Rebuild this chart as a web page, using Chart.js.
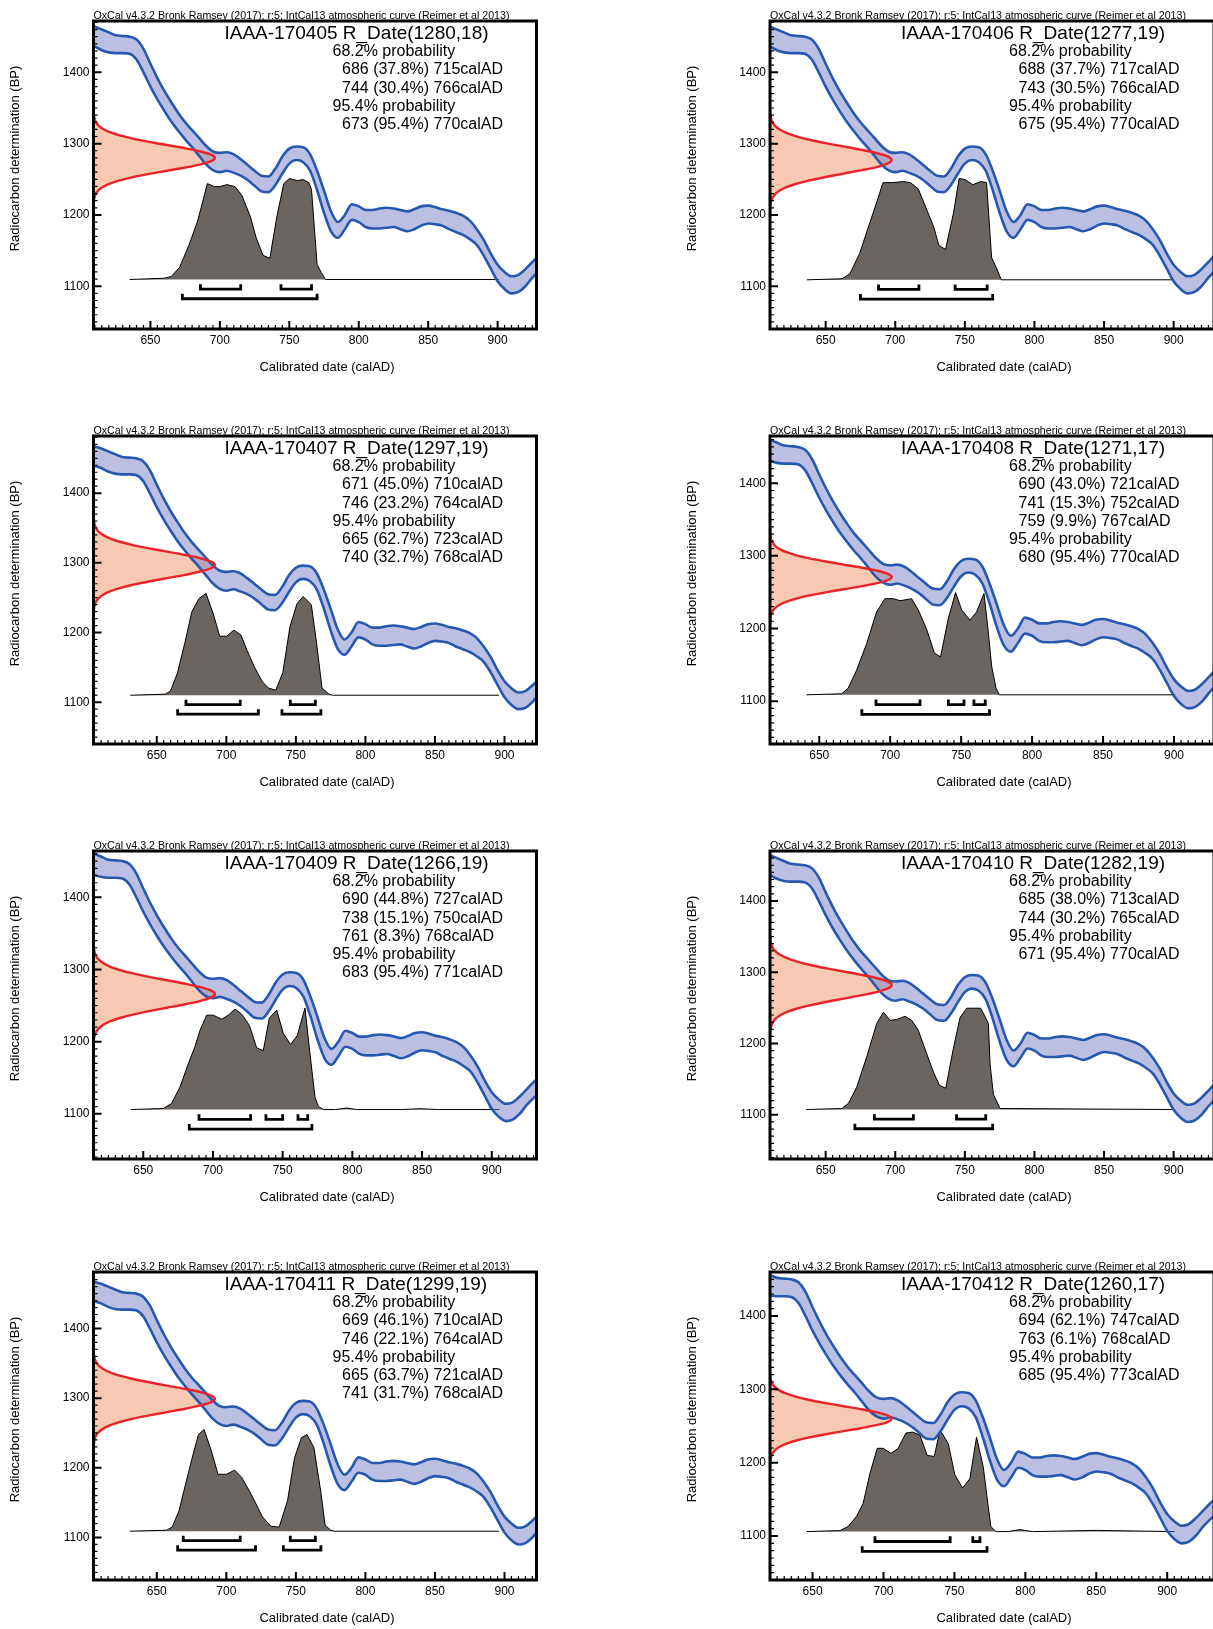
<!DOCTYPE html>
<html>
<head>
<meta charset="utf-8">
<title>OxCal calibration plots IAAA-170405 to IAAA-170412</title>
<script src="https://cdn.jsdelivr.net/npm/chart.js@4.4.1/dist/chart.umd.min.js"></script>
<style>
  html, body { margin: 0; padding: 0; background: #fff; }
  body { position: relative; width: 1213px; height: 1629px; overflow: hidden; }
  canvas { position: absolute; }
</style>
</head>
<body>
<script>
// IntCal13 1-sigma envelope (BP)
const curveYears = [600, 605, 610, 615, 620, 625, 630, 635, 640, 645, 650, 655, 660, 665, 670, 675, 680, 685, 690, 695,
  700, 705, 710, 715, 720, 725, 730, 735, 740, 745, 750, 755, 760, 765, 770, 775, 780, 785, 790, 795,
  800, 805, 810, 815, 820, 825, 830, 835, 840, 845, 850, 855, 860, 865, 870, 875, 880, 885, 890, 895,
  900, 905, 910, 915, 920, 925, 930, 935];
const curveUpper = [1470, 1467, 1464, 1460, 1456, 1452, 1451, 1450, 1446, 1433, 1412, 1392, 1374, 1358, 1343, 1330, 1319, 1308, 1297, 1289,
  1287, 1288, 1285, 1278, 1270, 1262, 1255, 1254, 1265, 1282, 1293, 1296, 1295, 1285, 1262, 1234, 1205, 1190, 1200, 1215,
  1212, 1207, 1207, 1209, 1210, 1209, 1207, 1205, 1208, 1212, 1213, 1211, 1208, 1206, 1203, 1199, 1192, 1180, 1165, 1146,
  1130, 1120, 1114, 1116, 1124, 1134, 1144, 1152];
const curveLower = [1442, 1439, 1436, 1431, 1428, 1427, 1427, 1426, 1418, 1400, 1380, 1362, 1346, 1331, 1318, 1306, 1295, 1283, 1271, 1263,
  1260, 1262, 1259, 1255, 1249, 1241, 1233, 1232, 1242, 1258, 1272, 1277, 1274, 1262, 1235, 1203, 1177, 1168, 1180, 1193,
  1190, 1183, 1181, 1181, 1182, 1183, 1180, 1177, 1180, 1185, 1188, 1187, 1185, 1180, 1176, 1172, 1166, 1158, 1143, 1125,
  1107, 1096, 1090, 1092, 1100, 1112, 1122, 1130];

// normal profile of the radiocarbon measurement (offset in sigma, relative height)
const gaussSigma = [4, 3.75, 3.5, 3.25, 3, 2.75, 2.5, 2.25, 2, 1.75, 1.5, 1.25, 1, 0.75, 0.5, 0.25, 0,
  -0.25, -0.5, -0.75, -1, -1.25, -1.5, -1.75, -2, -2.25, -2.5, -2.75, -3, -3.25, -3.5, -3.75, -4];
const gaussShape = [0.0003, 0.0009, 0.0022, 0.0051, 0.0111, 0.0228, 0.0439, 0.0796, 0.1353, 0.2163, 0.3247, 0.4578, 0.6065, 0.7548, 0.8825, 0.9692, 1,
  0.9692, 0.8825, 0.7548, 0.6065, 0.4578, 0.3247, 0.2163, 0.1353, 0.0796, 0.0439, 0.0228, 0.0111, 0.0051, 0.0022, 0.0009, 0.0003];

const xTickValues = [650, 700, 750, 800, 850, 900];
const yTickValues = [1100, 1200, 1300, 1400];

const headerText = "OxCal v4.3.2 Bronk Ramsey (2017); r:5; IntCal13 atmospheric curve (Reimer et al 2013)";
const labIds = ["IAAA-170405", "IAAA-170406", "IAAA-170407", "IAAA-170408", "IAAA-170409", "IAAA-170410", "IAAA-170411", "IAAA-170412"];
const rDateMean = [1280, 1277, 1297, 1271, 1266, 1282, 1299, 1260];
const rDateError = [18, 19, 19, 17, 19, 19, 19, 17];

const ranges68 = [
  [[686, 715], [744, 766]],
  [[688, 717], [743, 766]],
  [[671, 710], [746, 764]],
  [[690, 721], [741, 752], [759, 767]],
  [[690, 727], [738, 750], [761, 768]],
  [[685, 713], [744, 765]],
  [[669, 710], [746, 764]],
  [[694, 747], [763, 768]]
];
const percent68 = [[37.8, 30.4], [37.7, 30.5], [45.0, 23.2], [43.0, 15.3, 9.9], [44.8, 15.1, 8.3], [38.0, 30.2], [46.1, 22.1], [62.1, 6.1]];
const ranges95 = [
  [[673, 770]],
  [[675, 770]],
  [[665, 723], [740, 768]],
  [[680, 770]],
  [[683, 771]],
  [[671, 770]],
  [[665, 721], [741, 768]],
  [[685, 773]]
];
const percent95 = [[95.4], [95.4], [62.7, 32.7], [95.4], [95.4], [95.4], [63.7, 31.7], [95.4]];

// calibrated (posterior) distributions, relative height 0..1
const postYears = [
  [635, 660, 665, 671, 678, 684, 691, 696, 700, 705, 711, 716, 722, 726, 731, 736, 741, 746, 750, 756, 760, 764, 766, 770, 773, 776, 901],
  [636.5, 661.8, 667.4, 674.4, 681.4, 687, 691.2, 698.2, 705.3, 710.9, 716.5, 722.1, 727.7, 731.3, 736.1, 741.7, 745.9, 750.1, 755.7, 761.4, 765.6, 769.2, 772.6, 776.2, 900],
  [631, 656, 659.8, 664.9, 670.1, 675.2, 680.3, 685.4, 690.6, 695.2, 700.3, 705.4, 710.6, 714.9, 720.1, 726, 730.3, 735.5, 740.6, 745.7, 750.8, 755.2, 761.1, 764.9, 768.8, 773.9, 776.5, 896],
  [641, 665.7, 670.4, 676.3, 683.4, 690.4, 696.3, 702.4, 706.9, 715.1, 719.8, 725.7, 731.1, 735.5, 741, 746.1, 750.4, 756.2, 760.9, 766.1, 768.7, 771.5, 774.6, 776.9, 901],
  [641, 664.4, 670.3, 676.3, 682.3, 687.1, 690.7, 695.5, 700.2, 706.2, 711, 715.8, 720.6, 726.1, 731.3, 736.1, 740.4, 745.7, 750.5, 755.7, 760.5, 766, 769.6, 773.2, 775.6, 779.2, 788, 795.9, 803, 835, 848.6, 862, 905.5],
  [636, 661.6, 666.3, 672.3, 679.5, 686.7, 691.5, 696.3, 701.5, 707, 711.8, 716.6, 722.6, 727.4, 731.7, 736.3, 741.7, 746.6, 751.4, 761.4, 766.9, 768.1, 770.5, 775.3, 900],
  [630.6, 657, 661, 666, 671, 676, 680, 684, 689, 694, 700, 706, 711, 718, 726, 732, 738, 744, 749, 754, 758, 763, 768, 771, 775, 778, 896],
  [645.8, 669.3, 675.1, 681, 685.7, 690.4, 695.6, 699.8, 705.2, 710.4, 715.8, 720.5, 725.7, 730.8, 735.8, 739.8, 745.6, 750.3, 755.7, 760.9, 765.6, 770.3, 773.8, 775.7, 779.2, 788, 796.1, 805, 850, 905.4]
];
const postDensity = [
  [0, 0.013, 0.03, 0.12, 0.35, 0.58, 0.95, 0.92, 0.92, 0.94, 0.92, 0.83, 0.62, 0.42, 0.24, 0.21, 0.62, 0.95, 1.0, 0.98, 0.99, 0.96, 0.89, 0.15, 0.07, 0, 0],
  [0, 0.01, 0.06, 0.26, 0.55, 0.78, 0.96, 0.96, 0.97, 0.96, 0.9, 0.71, 0.52, 0.34, 0.3, 0.65, 1.0, 0.99, 0.94, 0.97, 0.96, 0.22, 0.12, 0, 0],
  [0, 0.01, 0.04, 0.22, 0.51, 0.82, 0.95, 1.0, 0.8, 0.58, 0.58, 0.64, 0.59, 0.44, 0.28, 0.13, 0.07, 0.05, 0.22, 0.67, 0.9, 0.97, 0.89, 0.51, 0.07, 0.01, 0, 0],
  [0, 0.01, 0.065, 0.24, 0.5, 0.81, 0.94, 0.94, 0.92, 0.94, 0.83, 0.64, 0.41, 0.37, 0.75, 1.0, 0.83, 0.73, 0.81, 0.99, 0.67, 0.28, 0.065, 0, 0],
  [0, 0.01, 0.06, 0.22, 0.45, 0.62, 0.78, 0.93, 0.93, 0.89, 0.93, 0.99, 0.94, 0.83, 0.61, 0.58, 0.9, 0.98, 0.75, 0.64, 0.73, 1.0, 0.55, 0.12, 0.03, 0, 0, 0.015, 0, 0, 0.008, 0, 0],
  [0, 0.01, 0.06, 0.22, 0.52, 0.85, 0.96, 0.88, 0.89, 0.92, 0.88, 0.78, 0.55, 0.37, 0.24, 0.21, 0.6, 0.91, 1.0, 1.0, 0.85, 0.45, 0.15, 0.01, 0],
  [0, 0.01, 0.04, 0.2, 0.48, 0.75, 0.95, 1.0, 0.8, 0.56, 0.56, 0.6, 0.53, 0.36, 0.14, 0.05, 0.04, 0.3, 0.72, 0.92, 0.95, 0.82, 0.38, 0.06, 0.01, 0, 0],
  [0, 0.01, 0.05, 0.15, 0.28, 0.57, 0.82, 0.82, 0.77, 0.82, 0.97, 0.98, 0.95, 0.75, 0.74, 1.0, 0.87, 0.56, 0.43, 0.52, 0.93, 0.64, 0.25, 0.05, 0, 0, 0.02, 0, 0.012, 0]
];
const postBaseBP = [1109.4, 1109, 1110, 1108.7, 1106, 1107.4, 1109, 1106];
const postPeakBP = [1251, 1251, 1256, 1249.5, 1246.5, 1249.5, 1255, 1244.5];

// axis ranges of each panel
const xMin = [609, 610, 604.5, 615.3, 614.3, 610, 604.5, 620];
const xMax = [928, 929, 923, 928.2, 932.1, 929, 923, 933];
const yMin = [1040, 1040, 1040, 1041, 1037.5, 1038, 1039, 1040];
const yMax = [1472, 1472, 1482, 1465, 1464, 1470, 1481, 1460];

// page layout
const colFrameLeft = [93.5, 770];
const colFrameRight = [536.5, 1214];
const colCanvasLeft = [0, 600];
const colCanvasWidth = [590, 617];
const rowFrameTop = [20.5, 436, 850.5, 1272];
const frameHeight = 308;
const padTop = 20, padBottom = 55;
const gaussWidthFrac = 0.274;

const fontFamily = '"Liberation Sans", Arial, Helvetica, sans-serif';
const bandLine = "rgb(38, 88, 176)";
const bandFill = "rgba(120, 130, 200, 0.5)";
const redLine = "rgb(232, 36, 40)";
const salmonFill = "rgb(247, 200, 178)";
const postFill = "rgb(106, 101, 96)";

function rangeText(r, p) {
  return r[0] + " (" + p.toFixed(1) + "%) " + r[1] + "calAD";
}

function bracketPoints(ranges, level) {
  const pts = [];
  ranges.forEach((r) => {
    pts.push({ x: r[0], y: level + 7 }, { x: r[0], y: level }, { x: r[1], y: level }, { x: r[1], y: level + 7 }, { x: r[1], y: null });
  });
  return pts;
}

const frameAndTicks = {
  id: "frameAndTicks",
  afterDatasetsDraw(chart) {
    const { ctx, chartArea: a, scales } = chart;
    const sx = scales.x, sy = scales.y;
    ctx.save();
    ctx.strokeStyle = "#000";
    // minor ticks
    ctx.lineWidth = 1.2;
    ctx.beginPath();
    for (let v = Math.ceil(sx.min / 5) * 5; v <= sx.max; v += 5) {
      if (v % 50 === 0) continue;
      const px = sx.getPixelForValue(v);
      ctx.moveTo(px, a.bottom);
      ctx.lineTo(px, a.bottom - 4);
    }
    for (let v = Math.ceil(sy.min / 10) * 10; v <= sy.max; v += 10) {
      if (v % 100 === 0) continue;
      const py = sy.getPixelForValue(v);
      ctx.moveTo(a.left, py);
      ctx.lineTo(a.left + 4, py);
    }
    ctx.stroke();
    // major ticks
    ctx.lineWidth = 2;
    ctx.beginPath();
    xTickValues.forEach((v) => {
      const px = sx.getPixelForValue(v);
      ctx.moveTo(px, a.bottom);
      ctx.lineTo(px, a.bottom - 8);
    });
    yTickValues.forEach((v) => {
      const py = sy.getPixelForValue(v);
      ctx.moveTo(a.left, py);
      ctx.lineTo(a.left + 8, py);
    });
    ctx.stroke();
    ctx.lineWidth = 3;
    ctx.strokeRect(a.left, a.top, a.right - a.left, a.bottom - a.top);
    ctx.restore();
  }
};

const panelText = {
  id: "panelText",
  afterDraw(chart, args, opts) {
    const { ctx, chartArea: a } = chart;
    ctx.save();
    ctx.fillStyle = "#000";
    ctx.textAlign = "left";
    ctx.textBaseline = "alphabetic";
    ctx.font = "10.7px " + fontFamily;
    ctx.fillText(headerText, a.left, a.top - 2.5, 416);
    ctx.textBaseline = "middle";
    ctx.font = "19px " + fontFamily;
    ctx.fillText(opts.title, a.left + 131, a.top + 13);
    ctx.font = "16px " + fontFamily;
    opts.lines.forEach((ln, i) => {
      ctx.fillText(ln.text, a.left + ln.indent, a.top + 30.5 + i * 18.3);
    });
    ctx.font = "13px " + fontFamily;
    ctx.textAlign = "center";
    ctx.fillText("Calibrated date (calAD)", (a.left + opts.frameRight) / 2 + 12, a.bottom + 38);
    ctx.translate(a.left - 78, (a.top + a.bottom) / 2 - 16.5);
    ctx.rotate(-Math.PI / 2);
    ctx.fillText("Radiocarbon determination (BP)", 0, 0);
    ctx.restore();
  }
};

function createPanel(i) {
  const col = i % 2;
  const row = Math.floor(i / 2);
  const canvas = document.createElement("canvas");
  const cw = colCanvasWidth[col];
  const ch = padTop + frameHeight + padBottom;
  const yAxisSpace = colFrameLeft[col] - colCanvasLeft[col];
  canvas.width = cw;
  canvas.height = ch;
  canvas.style.left = colCanvasLeft[col] + "px";
  canvas.style.top = (rowFrameTop[row] - padTop) + "px";
  canvas.style.width = cw + "px";
  canvas.style.height = ch + "px";
  document.body.appendChild(canvas);

  const mean = rDateMean[i], sd = rDateError[i];
  const base = postBaseBP[i], peak = postPeakBP[i];

  const upper = curveYears.map((yr, k) => ({ x: yr, y: curveUpper[k] }));
  const lower = curveYears.map((yr, k) => ({ x: yr, y: curveLower[k] }));
  const gauss = gaussSigma.map((s, k) => ({ x: gaussShape[k], y: mean + s * sd }));
  const post = postYears[i].map((yr, k) => ({ x: yr, y: postDensity[i][k] }));

  const lines = [{ text: "68.2\u0304% probability", indent: 239 }];
  ranges68[i].forEach((r, k) => lines.push({ text: rangeText(r, percent68[i][k]), indent: 248.5 }));
  lines.push({ text: "95.4% probability", indent: 239 });
  ranges95[i].forEach((r, k) => lines.push({ text: rangeText(r, percent95[i][k]), indent: 248.5 }));

  const tickFont = { family: fontFamily, size: 12 };

  new Chart(canvas, {
    type: "line",
    data: {
      datasets: [
        {
          label: "posterior",
          data: post,
          yAxisID: "yp",
          borderColor: "#000",
          borderWidth: 1,
          backgroundColor: postFill,
          fill: "origin",
          pointRadius: 0,
          tension: 0,
          order: 60
        },
        {
          label: "measurement fill",
          data: gauss,
          xAxisID: "xg",
          borderWidth: 0,
          borderColor: "rgba(0,0,0,0)",
          backgroundColor: salmonFill,
          fill: "shape",
          pointRadius: 0,
          tension: 0.3,
          order: 50
        },
        {
          label: "IntCal13 upper",
          data: upper,
          borderColor: bandLine,
          borderWidth: 2.6,
          backgroundColor: bandFill,
          fill: "+1",
          pointRadius: 0,
          cubicInterpolationMode: "monotone",
          order: 40
        },
        {
          label: "IntCal13 lower",
          data: lower,
          borderColor: bandLine,
          borderWidth: 2.6,
          fill: false,
          pointRadius: 0,
          cubicInterpolationMode: "monotone",
          order: 39
        },
        {
          label: "measurement",
          data: gauss,
          xAxisID: "xg",
          borderColor: redLine,
          borderWidth: 2.4,
          fill: false,
          pointRadius: 0,
          tension: 0.3,
          order: 20
        },
        {
          label: "68.2%",
          data: bracketPoints(ranges68[i], base - 13.5),
          borderColor: "#000",
          borderWidth: 2.8,
          borderJoinStyle: "miter",
          fill: false,
          pointRadius: 0,
          spanGaps: false,
          order: 10
        },
        {
          label: "95.4%",
          data: bracketPoints(ranges95[i], base - 27),
          borderColor: "#000",
          borderWidth: 2.8,
          borderJoinStyle: "miter",
          fill: false,
          pointRadius: 0,
          spanGaps: false,
          order: 10
        }
      ]
    },
    options: {
      responsive: false,
      maintainAspectRatio: false,
      animation: false,
      devicePixelRatio: 1,
      layout: {
        autoPadding: false,
        padding: {
          left: 0,
          right: colCanvasLeft[col] + cw - colFrameRight[col],
          top: padTop,
          bottom: 0
        }
      },
      plugins: {
        legend: { display: false },
        tooltip: { enabled: false },
        panelText: { title: labIds[i] + " R_Date(" + mean + "," + sd + ")", lines: lines, frameRight: colFrameRight[col] - colCanvasLeft[col] }
      },
      scales: {
        x: {
          type: "linear",
          position: "bottom",
          min: xMin[i],
          max: xMax[i],
          afterBuildTicks: (s) => { s.ticks = xTickValues.map((v) => ({ value: v })); },
          afterFit: (s) => { s.height = padBottom; },
          grid: { display: false, drawTicks: false },
          border: { display: false },
          ticks: { padding: 4, color: "#000", font: tickFont, maxRotation: 0, autoSkip: false, callback: (v) => String(v) }
        },
        y: {
          type: "linear",
          position: "left",
          min: yMin[i],
          max: yMax[i],
          afterBuildTicks: (s) => { s.ticks = yTickValues.map((v) => ({ value: v })); },
          afterFit: (s) => { s.width = yAxisSpace; },
          grid: { display: false, drawTicks: false },
          border: { display: false },
          ticks: { padding: 4, color: "#000", font: tickFont, autoSkip: false, callback: (v) => String(v) }
        },
        xg: {
          type: "linear",
          axis: "x",
          position: "top",
          display: false,
          min: 0,
          max: 1 / gaussWidthFrac
        },
        yp: {
          type: "linear",
          axis: "y",
          position: "right",
          display: false,
          min: (yMin[i] - base) / (peak - base),
          max: (yMax[i] - base) / (peak - base)
        }
      }
    },
    plugins: [frameAndTicks, panelText]
  });
}

for (let i = 0; i < 8; i++) createPanel(i);
</script>
</body>
</html>
